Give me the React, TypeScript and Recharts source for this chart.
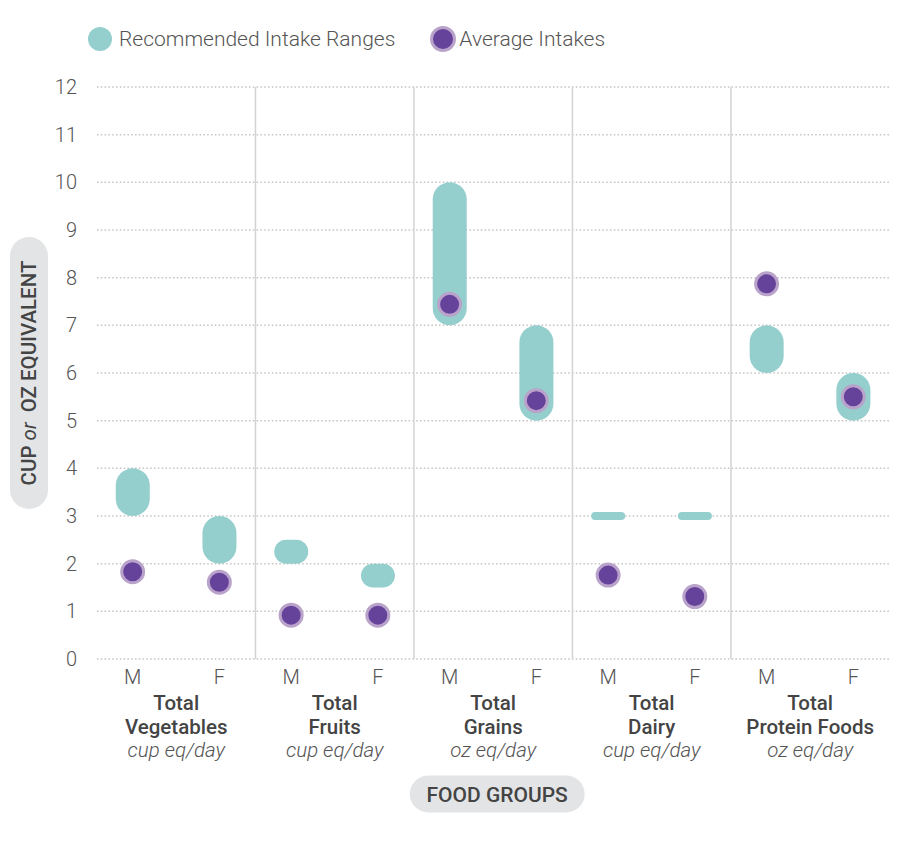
import React from 'react';
import {
  ComposedChart, Bar, Scatter, XAxis, YAxis, CartesianGrid, ReferenceLine, Legend,
} from 'recharts';

// ---------- data ----------
const groupNames = ['Vegetables', 'Fruits', 'Grains', 'Dairy', 'Protein Foods'];
const groupUnits = ['cup eq/day', 'cup eq/day', 'oz eq/day', 'cup eq/day', 'oz eq/day'];
const sexes = ['M', 'F'];
// recommended intake ranges (M, F per group)
const rangeLow = [3, 2, 2, 1.5, 7, 5, 3, 3, 6, 5];
const rangeHigh = [4, 3, 2.5, 2, 10, 7, 3, 3, 7, 6];
// average intakes (M, F per group)
const avgIntake = [1.83, 1.61, 0.92, 0.92, 7.44, 5.42, 1.76, 1.31, 7.87, 5.5];
const yTicks = [0, 1, 2, 3, 4, 5, 6, 7, 8, 9, 10, 11, 12];
const seriesNames = ['Recommended Intake Ranges', 'Average Intakes'];

// ---------- style ----------
const TEAL = '#94cfcd';
const PURPLE = '#66439a';
const PURPLE_STROKE = '#b9a3cb';
const FONT = 'Roboto, "Noto Sans", sans-serif';
const LIGHT_FONT = '"Roboto Light", Roboto, "Noto Sans", sans-serif';
const SEX_OFFSET = [0.225, 0.772];

const rows = rangeLow.map((low, i) => {
  const g = Math.floor(i / 2);
  const s = i % 2;
  return {
    x: g + SEX_OFFSET[s],
    sex: sexes[s],
    range: [low, rangeHigh[i]],
    avg: avgIntake[i],
  };
});
const sexTicks = rows.map((r) => r.x);
const groupTicks = groupNames.map((_, i) => i + 0.5);
const separators = [1, 2, 3, 4];

const CapsuleShape = (props: any) => {
  const { x, y, width } = props;
  let h = Math.abs(props.height || 0);
  let top = Math.min(y, y + (props.height || 0));
  const minH = 8;
  if (h < minH) {
    top = top + h / 2 - minH / 2;
    h = minH;
  }
  const r = Math.min(width, h) / 2;
  return <rect x={x} y={top} width={width} height={h} rx={r} ry={r} fill={TEAL} />;
};

const DotShape = (props: any) => {
  const { cx, cy } = props;
  return <circle cx={cx} cy={cy} r={11} fill={PURPLE} stroke={PURPLE_STROKE} strokeWidth={3} />;
};

const SexTick = (props: any) => {
  const { x, y, payload } = props;
  const idx = sexTicks.findIndex((t) => Math.abs(t - payload.value) < 1e-6);
  const label = idx >= 0 ? rows[idx].sex : '';
  return (
    <text x={x} y={y + 25} textAnchor="middle" fontFamily={LIGHT_FONT} fontWeight={300} fontSize={20} fill="#555">
      {label}
    </text>
  );
};

const GroupTick = (props: any) => {
  const { x, y, payload } = props;
  const idx = Math.round(payload.value - 0.5);
  if (idx < 0 || idx >= groupNames.length) return null;
  return (
    <g>
      <text x={x} y={y + 21} textAnchor="middle" fontFamily={FONT} fontWeight={500} fontSize={20.5} fill="#444">Total</text>
      <text x={x} y={y + 45} textAnchor="middle" fontFamily={FONT} fontWeight={500} fontSize={20.5} fill="#444">{groupNames[idx]}</text>
      <text x={x} y={y + 68} textAnchor="middle" fontFamily={LIGHT_FONT} fontWeight={300} fontStyle="italic" fontSize={20.5} fill="#555">{groupUnits[idx]}</text>
    </g>
  );
};

const YTick = (props: any) => {
  const { x, y, payload } = props;
  return (
    <text x={x} y={y} dy={7} textAnchor="end" fontFamily={LIGHT_FONT} fontWeight={300} fontSize={20} fill="#555">
      {payload.value}
    </text>
  );
};

const YLabel = (props: any) => {
  const vb = props.viewBox || {};
  const cx = vb.x + 21;
  const cy = vb.y + vb.height / 2;
  const w = 38;
  const h = 272;
  return (
    <g>
      <rect x={cx - w / 2} y={cy - h / 2} width={w} height={h} rx={w / 2} ry={w / 2} fill="#e3e4e6" />
      <text
        x={cx}
        y={cy}
        transform={`rotate(-90 ${cx} ${cy})`}
        textAnchor="middle"
        dy={7}
        fontFamily={FONT}
        fontSize={20.5}
        fontWeight={500}
        fill="#444"
      >
        CUP <tspan fontStyle="italic" fontWeight={400}>or</tspan><tspan dx={10}>OZ EQUIVALENT</tspan>
      </text>
    </g>
  );
};

const XLabel = (props: any) => {
  const vb = props.viewBox || {};
  const cx = vb.x + vb.width / 2 + 4;
  const cy = vb.y + vb.height + 25;
  const w = 175;
  const h = 37;
  return (
    <g>
      <rect x={cx - w / 2} y={cy - h / 2} width={w} height={h} rx={h / 2} ry={h / 2} fill="#e3e4e6" />
      <text x={cx} y={cy} dy={7.5} textAnchor="middle" fontFamily={FONT} fontSize={21} fontWeight={500} fill="#444">
        FOOD GROUPS
      </text>
    </g>
  );
};

const LegendContent = () => (
  <div
    style={{
      display: 'flex',
      alignItems: 'center',
      height: 40,
      paddingLeft: 80,
      fontFamily: LIGHT_FONT,
      fontWeight: 300,
      fontSize: 21,
      color: '#555',
      whiteSpace: 'nowrap',
    }}
  >
    <svg width={24} height={24}><circle cx={12} cy={12} r={12} fill={TEAL} /></svg>
    <span style={{ marginLeft: 7 }}>{seriesNames[0]}</span>
    <svg width={26} height={26} style={{ marginLeft: 35 }}>
      <circle cx={13} cy={13} r={11.5} fill={PURPLE} stroke={PURPLE_STROKE} strokeWidth={3} />
    </svg>
    <span style={{ marginLeft: 3 }}>{seriesNames[1]}</span>
  </div>
);

export default function App() {
  return (
    <div style={{ width: 898, height: 840, fontFamily: FONT }}>
      <ComposedChart
        width={898}
        height={840}
        data={rows}
        margin={{ top: 39, right: 16.6, left: 0, bottom: 79 }}
      >
        <Legend
          verticalAlign="top"
          align="left"
          content={<LegendContent />}
          wrapperStyle={{ top: 11, left: 0, width: 898, height: 40 }}
        />
        <CartesianGrid vertical={false} stroke="#c4c4c4" strokeWidth={1.5} strokeDasharray="1.5 2.3" />
        <XAxis
          xAxisId={0}
          dataKey="x"
          type="number"
          domain={[0, 5]}
          ticks={sexTicks}
          interval={0}
          axisLine={false}
          tickLine={false}
          tickSize={0}
          tickMargin={0}
          height={30}
          tick={<SexTick />}
        />
        <XAxis
          xAxisId="g"
          dataKey="x"
          type="number"
          domain={[0, 5]}
          allowDataOverflow
          ticks={groupTicks}
          interval={0}
          axisLine={false}
          tickLine={false}
          tickSize={0}
          tickMargin={0}
          height={80}
          tick={<GroupTick />}
          label={{ content: <XLabel /> }}
        />
        <YAxis
          type="number"
          domain={[0, 12]}
          ticks={yTicks}
          interval={0}
          width={89}
          axisLine={false}
          tickLine={false}
          tickSize={6}
          tickMargin={14}
          tick={<YTick />}
          label={{ content: <YLabel /> }}
        />
        {separators.map((s) => (
          <ReferenceLine key={s} x={s} stroke="#d3d3d3" strokeWidth={1.5} />
        ))}
        <Bar
          dataKey="range"
          name={seriesNames[0]}
          barSize={34}
          shape={<CapsuleShape />}
          isAnimationActive={false}
        />
        <Scatter
          dataKey="avg"
          name={seriesNames[1]}
          shape={<DotShape />}
          isAnimationActive={false}
        />
      </ComposedChart>
    </div>
  );
}
